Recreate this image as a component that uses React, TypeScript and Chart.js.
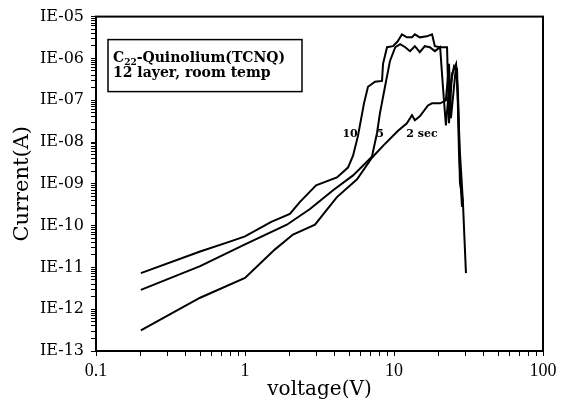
import React, { useEffect, useRef } from 'react';
import { Chart, registerables } from 'chart.js';

Chart.register(...registerables);

// ---- data ----
const xTickValues = [0.1, 1, 10, 100];
const xTickLabels = ['0.1', '1', '10', '100'];
const yTickValues = [1e-13, 1e-12, 1e-11, 1e-10, 1e-9, 1e-8, 1e-7, 1e-6, 1e-5];
const yTickLabels = ['IE-13', 'IE-12', 'IE-11', 'IE-10', 'IE-09', 'IE-08', 'IE-07', 'IE-06', 'IE-05'];

// 10 sec
const voltage10 = [0.2, 0.5, 0.8, 1, 1.5, 2, 2.34, 3, 4.14, 4.91, 5.31, 5.73, 6.29, 6.69, 7.46, 8.31, 8.44, 8.98, 9.85, 10.6, 11.3, 12.2, 13.2, 13.8, 14.9, 16.6, 18.0, 18.8, 20.4, 22.7, 23.4, 24.5, 26.1, 26.9, 27.7, 29.0, 30.4];
const current10 = [7.3e-12, 2.4e-11, 4.2e-11, 5.5e-11, 1.23e-10, 1.9e-10, 3.7e-10, 9.2e-10, 1.42e-9, 2.45e-9, 4.7e-9, 1.4e-8, 8.4e-8, 2.1e-7, 2.77e-7, 2.9e-7, 7.4e-7, 1.85e-6, 1.96e-6, 2.57e-6, 3.76e-6, 3.19e-6, 3.19e-6, 3.76e-6, 3.19e-6, 3.37e-6, 3.76e-6, 1.96e-6, 1.85e-6, 1.85e-6, 2.8e-8, 4.3e-7, 7.4e-7, 8.4e-8, 5.5e-9, 3.7e-10, 7.3e-12];

// 5 sec
const voltage5 = [0.2, 0.5, 1, 1.91, 2.73, 3.9, 5.31, 7.11, 7.69, 8.05, 8.7, 9.4, 10.2, 11.0, 11.9, 12.8, 13.8, 14.9, 16.1, 17.4, 18.8, 20.4, 21.3, 22.3, 23.1, 25.3, 26.5, 27.3, 28.6];
const current5 = [2.9e-12, 1.07e-11, 3.54e-11, 1.05e-10, 2.5e-10, 7.0e-10, 1.59e-9, 4.46e-9, 1.64e-8, 4.9e-8, 2.1e-7, 8.7e-7, 1.85e-6, 2.18e-6, 1.85e-6, 1.49e-6, 1.96e-6, 1.41e-6, 1.96e-6, 1.85e-6, 1.49e-6, 1.85e-6, 2.1e-7, 2.5e-8, 1.1e-7, 6.6e-7, 5.6e-7, 5.5e-9, 2.8e-10];

// 2 sec
const voltage2 = [0.2, 0.5, 1, 1.59, 2.1, 2.95, 3.44, 4.14, 5.65, 7.11, 8.44, 10.6, 12.2, 13.2, 13.8, 14.9, 16.9, 18.0, 20.4, 22.3, 23.4, 24.1, 26.1, 26.9, 27.7, 29.0];
const current2 = [3.1e-13, 1.88e-12, 5.6e-12, 2.7e-11, 6.1e-11, 1.05e-10, 2.1e-10, 4.8e-10, 1.28e-9, 4.2e-9, 8.1e-9, 1.83e-8, 2.8e-8, 4.4e-8, 3.3e-8, 4.1e-8, 7.5e-8, 8.4e-8, 8.4e-8, 9.9e-8, 7.4e-7, 3.7e-8, 6.6e-7, 1.45e-7, 1.08e-9, 3.7e-10];

const curveLabelTexts = ['10', '5', '2 sec'];
const curveLabelVoltages = [5.07, 8.05, 15.4];
const curveLabelCurrents = [1.56e-8, 1.56e-8, 1.56e-8];

const boxLine1Main = 'C';
const boxLine1Sub = '22';
const boxLine1Rest = '-Quinolium(TCNQ)';
const boxLine2 = '12 layer, room temp';

const xTitle = 'voltage(V)';
const yTitle = 'Current(A)';

// ---- helpers ----
const logTicks = (decades: number[]) => {
  const out: { value: number }[] = [];
  for (let i = 0; i < decades.length - 1; i++) {
    for (let m = 1; m <= 9; m++) out.push({ value: m * decades[i] });
  }
  out.push({ value: decades[decades.length - 1] });
  return out;
};
const labelFor = (vals: number[], labels: string[], v: number) => {
  const i = vals.findIndex((t) => Math.abs(Math.log10(t) - Math.log10(v)) < 1e-6);
  return i >= 0 ? labels[i] : '';
};
const toPoints = (xs: number[], ys: number[]) => xs.map((x, i) => ({ x, y: ys[i] }));

const framePlugin = {
  id: 'frameAndNotes',
  afterDraw(chart: any) {
    const { ctx, chartArea: a, scales } = chart;
    ctx.save();
    ctx.strokeStyle = '#000';
    ctx.lineWidth = 2;
    ctx.strokeRect(a.left, a.top, a.right - a.left, a.bottom - a.top);

    // note box
    const bx = a.left + 12;
    const by = a.top + 23;
    ctx.lineWidth = 1.5;
    ctx.strokeRect(bx, by, 194, 52);
    ctx.fillStyle = '#000';
    ctx.textAlign = 'left';
    ctx.textBaseline = 'alphabetic';
    let x = bx + 5;
    const y1 = by + 22;
    ctx.font = 'bold 14px "DejaVu Serif"';
    ctx.fillText(boxLine1Main, x, y1);
    x += ctx.measureText(boxLine1Main).width;
    ctx.font = 'bold 9px "DejaVu Serif"';
    ctx.fillText(boxLine1Sub, x, y1 + 3);
    x += ctx.measureText(boxLine1Sub).width;
    ctx.font = 'bold 14px "DejaVu Serif"';
    ctx.fillText(boxLine1Rest, x, y1);
    ctx.fillText(boxLine2, bx + 5, by + 37);

    // curve labels
    ctx.font = 'bold 11px "DejaVu Serif"';
    ctx.textAlign = 'center';
    ctx.textBaseline = 'middle';
    curveLabelTexts.forEach((t, i) => {
      const px = scales.x.getPixelForValue(curveLabelVoltages[i]);
      const py = scales.y.getPixelForValue(curveLabelCurrents[i]);
      ctx.fillText(t, px, py);
    });
    ctx.restore();
  },
};

export default function App() {
  const ref = useRef<HTMLCanvasElement | null>(null);
  useEffect(() => {
    if (!ref.current) return;
    const line = (xs: number[], ys: number[]) => ({
      data: toPoints(xs, ys),
      borderColor: '#000',
      borderWidth: 2,
      pointRadius: 0,
      tension: 0,
      fill: false,
    });
    const chart = new Chart(ref.current, {
      type: 'line',
      data: {
        datasets: [line(voltage10, current10), line(voltage5, current5), line(voltage2, current2)],
      },
      options: {
        animation: false,
        responsive: false,
        devicePixelRatio: 1,
        layout: { padding: { left: 0, top: 12, right: 20, bottom: 0 } },
        plugins: { legend: { display: false }, tooltip: { enabled: false } },
        scales: {
          x: {
            type: 'logarithmic',
            min: 0.1,
            max: 100,
            afterBuildTicks: (s: any) => { s.ticks = logTicks(xTickValues); },
            afterFit: (s: any) => { s.height = 56; },
            ticks: {
              autoSkip: false,
              maxRotation: 0,
              padding: 4,
              color: '#000',
              font: { family: '"Liberation Serif", serif', size: 18 },
              callback: (v: any) => labelFor(xTickValues, xTickLabels, Number(v)),
            },
            grid: { drawOnChartArea: false, drawTicks: true, tickLength: 5, color: '#000', lineWidth: 1 },
            border: { display: true, color: '#000', width: 2 },
            title: {
              display: true,
              text: xTitle,
              color: '#000',
              font: { family: '"DejaVu Serif", serif', size: 20 },
              padding: { top: 0, bottom: 5 },
            },
          },
          y: {
            type: 'logarithmic',
            min: 1e-13,
            max: 1e-5,
            afterBuildTicks: (s: any) => { s.ticks = logTicks(yTickValues); },
            afterFit: (s: any) => { s.width = 96; },
            ticks: {
              autoSkip: false,
              padding: 7,
              color: '#000',
              font: { family: '"DejaVu Serif", serif', size: 16 },
              callback: (v: any) => labelFor(yTickValues, yTickLabels, Number(v)),
            },
            grid: { drawOnChartArea: false, drawTicks: true, tickLength: 5, color: '#000', lineWidth: 1 },
            border: { display: true, color: '#000', width: 2 },
            title: {
              display: true,
              text: yTitle,
              color: '#000',
              font: { family: '"DejaVu Serif", serif', size: 21 },
              padding: { top: 10, bottom: 0 },
            },
          },
        },
      },
      plugins: [framePlugin],
    } as any);
    return () => chart.destroy();
  }, []);
  return (
    <div style={{ position: 'absolute', left: 0, top: 0, width: 563, height: 407, background: '#fff' }}>
      <canvas ref={ref} width={563} height={407} style={{ width: 563, height: 407, display: 'block' }} />
    </div>
  );
}
